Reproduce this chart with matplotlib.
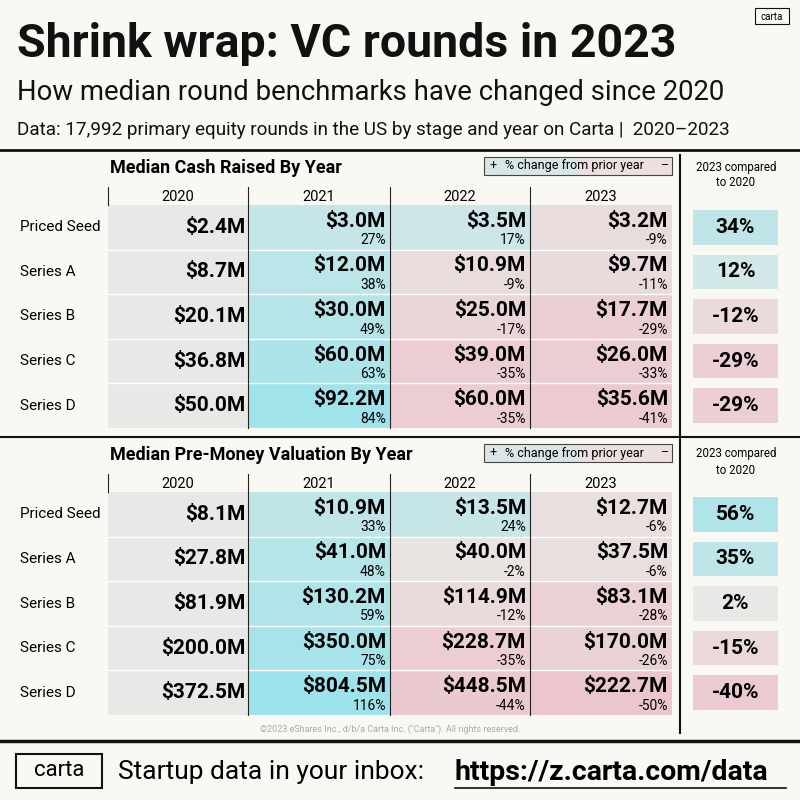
import matplotlib
matplotlib.use("Agg")
import matplotlib.pyplot as plt
from matplotlib.patches import Rectangle
import numpy as np

plt.rcParams['font.family'] = ['Roboto', 'DejaVu Sans']

stages = ["Priced Seed", "Series A", "Series B", "Series C", "Series D"]
years = ["2020", "2021", "2022", "2023"]

cash_labels = [["$2.4M", "$3.0M", "$3.5M", "$3.2M"],
               ["$8.7M", "$12.0M", "$10.9M", "$9.7M"],
               ["$20.1M", "$30.0M", "$25.0M", "$17.7M"],
               ["$36.8M", "$60.0M", "$39.0M", "$26.0M"],
               ["$50.0M", "$92.2M", "$60.0M", "$35.6M"]]
cash_pct = [[27, 17, -9], [38, -9, -11], [49, -17, -29], [63, -35, -33], [84, -35, -41]]
cash_vs2020 = [34, 12, -12, -29, -29]

val_labels = [["$8.1M", "$10.9M", "$13.5M", "$12.7M"],
              ["$27.8M", "$41.0M", "$40.0M", "$37.5M"],
              ["$81.9M", "$130.2M", "$114.9M", "$83.1M"],
              ["$200.0M", "$350.0M", "$228.7M", "$170.0M"],
              ["$372.5M", "$804.5M", "$448.5M", "$222.7M"]]
val_pct = [[33, 24, -6], [48, -2, -6], [59, -12, -28], [75, -35, -26], [116, -44, -50]]
val_vs2020 = [56, 35, 2, -15, -40]

BG = "#faf8f3"
GREY = np.array([0.91, 0.91, 0.90])
TEAL = np.array([0.62, 0.89, 0.92])
PINK = np.array([0.93, 0.72, 0.77])

def col(p):
    t = min(abs(p) / 90.0, 1.0) ** 0.6
    tgt = TEAL if p > 0 else PINK
    return tuple(GREY + (tgt - GREY) * t)

fig = plt.figure(figsize=(8, 8), dpi=100, facecolor=BG)
ax = fig.add_axes([0, 0, 1, 1])
ax.set_xlim(0, 800); ax.set_ylim(800, 0); ax.axis("off")
ax.set_facecolor(BG)

ax.text(17, 44, "Shrink wrap: VC rounds in 2023", fontsize=33.5, fontweight="bold", va="center", color="#111")
ax.text(17, 92, "How median round benchmarks have changed since 2020", fontsize=19.8, va="center", color="#111")
ax.text(17, 130, "Data: 17,992 primary equity rounds in the US by stage and year on Carta |  2020–2023", fontsize=13.6, va="center", color="#111")
ax.add_patch(Rectangle((755, 8), 34, 16, fill=False, lw=0.8, ec="#111"))
ax.text(772, 16.5, "carta", fontsize=7, ha="center", va="center")

ax.plot([0, 800], [150, 150], color="#111", lw=2)
ax.plot([0, 800], [437, 437], color="#111", lw=1.5)
ax.plot([0, 800], [741, 741], color="#111", lw=2.5)
ax.plot([680, 680], [155, 733], color="#111", lw=1.5)

xb = [108, 248, 390, 530, 672]

def table(y0, title, labels, pct, vs):
    ax.text(110, y0 - 37, title, fontsize=13, fontweight="bold", va="center")
    ax.add_patch(Rectangle((484, y0 - 48), 188, 18, color=(0.85, 0.9, 0.9), lw=0))
    ax.add_patch(Rectangle((578, y0 - 48), 94, 18, color=(0.93, 0.87, 0.88), lw=0))
    ax.add_patch(Rectangle((484, y0 - 48), 188, 18, fill=False, lw=0.8, ec="#444"))
    ax.text(489, y0 - 39, "+", fontsize=9, va="center")
    ax.text(505, y0 - 39, "% change from prior year", fontsize=9, va="center")
    ax.text(664, y0 - 39, "–", fontsize=9, va="center", ha="center")
    ax.text(736, y0 - 30, "2023 compared\nto 2020", fontsize=8.3, ha="center", va="center", linespacing=1.3)
    for j, yr in enumerate(years):
        ax.text((xb[j] + xb[j + 1]) / 2, y0 - 8, yr, fontsize=10.5, ha="center", va="center")
        if j < 3:
            ax.plot([xb[j + 1]] * 2, [y0 - 18, y0 + 223], color="#222", lw=0.8)
    ax.plot([xb[0], xb[0]], [y0 - 18, y0], color="#222", lw=0.8)
    rh = 44.6
    for i, st in enumerate(stages):
        yt = y0 + i * rh
        yc = yt + rh / 2
        ax.text(20, yc, st, fontsize=11, va="center")
        for j in range(4):
            c = tuple(GREY) if j == 0 else col(pct[i][j - 1])
            ax.add_patch(Rectangle((xb[j], yt), xb[j + 1] - xb[j], rh, color=c, lw=0, zorder=0))
            if j == 0:
                ax.text(xb[1] - 3, yc, labels[i][0], fontsize=15, fontweight="bold", ha="right", va="center")
            else:
                ax.text(xb[j + 1] - 4, yc - 6, labels[i][j], fontsize=15, fontweight="bold", ha="right", va="center")
                ax.text(xb[j + 1] - 4, yc + 13, f"{pct[i][j-1]}%", fontsize=10, ha="right", va="center")
        if i > 0:
            ax.plot([xb[0], xb[4]], [yt, yt], color="white", lw=1, zorder=1)
        v = vs[i]
        ax.add_patch(Rectangle((693, yt + 5), 85, rh - 10, color=col(v) if abs(v) > 3 else tuple(GREY), lw=0))
        ax.text(735.5, yc, f"{v}%", fontsize=15, fontweight="bold", ha="center", va="center")

table(205, "Median Cash Raised By Year", cash_labels, cash_pct, cash_vs2020)
table(492, "Median Pre-Money Valuation By Year", val_labels, val_pct, val_vs2020)

ax.text(390, 729, "©2023 eShares Inc., d/b/a Carta Inc. (\"Carta\"). All rights reserved.",
        fontsize=6.5, color="#aaa", ha="center", va="center")

ax.add_patch(Rectangle((16, 754), 86, 34, fill=False, lw=1.5, ec="#111"))
ax.text(59, 771, "carta", fontsize=16, ha="center", va="center")
ax.text(118, 772, "Startup data in your inbox:", fontsize=19, va="center")
ax.text(455, 772, "https://z.carta.com/data", fontsize=20.5, fontweight="bold", va="center")
ax.plot([455, 786], [788, 788], color="#111", lw=1.2)

fig.savefig("out.png", dpi=100, facecolor=BG)
